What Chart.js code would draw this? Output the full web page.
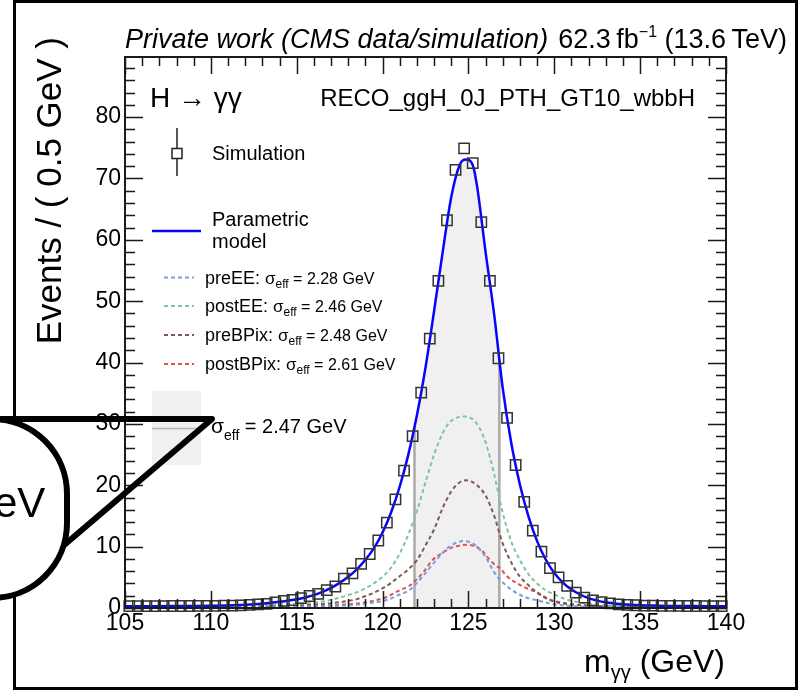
<!DOCTYPE html>
<html>
<head>
<meta charset="utf-8">
<script src="https://cdn.jsdelivr.net/npm/chart.js@4.4.1/dist/chart.umd.min.js"></script>
<style>
  html, body { margin: 0; padding: 0; background: #fff; }
  #wrap { position: relative; width: 808px; height: 692px; }
</style>
</head>
<body>
<div id="wrap"><canvas id="massChart" width="808" height="692"></canvas></div>
<script>
const FONT = '"Liberation Sans", Arial, Helvetica, sans-serif';

// axis ticks / ranges
const xTicks = [105, 110, 115, 120, 125, 130, 135, 140];
const yTicks = [0, 10, 20, 30, 40, 50, 60, 70, 80];
const xRange = [105, 140];
const yRange = [0, 89.8];

// simulation histogram (0.5 GeV bins, bin centres)
const simMass = [
  105.25, 105.75, 106.25, 106.75, 107.25, 107.75, 108.25, 108.75, 109.25, 109.75,
  110.25, 110.75, 111.25, 111.75, 112.25, 112.75, 113.25, 113.75, 114.25, 114.75,
  115.25, 115.75, 116.25, 116.75, 117.25, 117.75, 118.25, 118.75, 119.25, 119.75,
  120.25, 120.75, 121.25, 121.75, 122.25, 122.75, 123.25, 123.75, 124.25, 124.75,
  125.25, 125.75, 126.25, 126.75, 127.25, 127.75, 128.25, 128.75, 129.25, 129.75,
  130.25, 130.75, 131.25, 131.75, 132.25, 132.75, 133.25, 133.75, 134.25, 134.75,
  135.25, 135.75, 136.25, 136.75, 137.25, 137.75, 138.25, 138.75, 139.25, 139.75
];
const simEvents = [
  0.30, 0.30, 0.30, 0.31, 0.31, 0.32, 0.32, 0.33, 0.34, 0.35,
  0.36, 0.38, 0.40, 0.44, 0.50, 0.60, 0.68, 0.90, 1.15, 1.30,
  1.60, 1.95, 2.30, 2.90, 3.50, 4.80, 5.65, 7.20, 8.80, 11.0,
  13.9, 17.7, 22.4, 28.0, 35.1, 43.9, 53.3, 63.2, 71.4, 74.9,
  72.5, 62.9, 53.3, 40.7, 31.0, 23.3, 17.3, 12.6, 9.2, 6.5,
  5.0, 3.6, 2.5, 1.7, 1.25, 0.95, 0.75, 0.60, 0.50, 0.45,
  0.40, 0.38, 0.36, 0.35, 0.34, 0.33, 0.32, 0.31, 0.30, 0.30
];
const simErrors = [
  0.9, 0.9, 0.9, 0.9, 0.9, 0.9, 0.9, 0.9, 0.9, 0.9,
  0.9, 0.9, 0.9, 0.9, 0.9, 0.9, 0.9, 0.9, 0.9, 0.9,
  0.9, 0.9, 0.9, 0.9, 0.9, 0.9, 0.9, 0.9, 0.9, 0.9,
  0.8, 0.8, 0.8, 0.8, 0.8, 0.8, 0.8, 0.8, 0.8, 0.8,
  0.8, 0.8, 0.8, 0.8, 0.8, 0.8, 0.8, 0.8, 0.9, 0.9,
  0.9, 0.9, 0.9, 0.9, 0.9, 0.9, 0.9, 0.9, 0.9, 0.9,
  0.9, 0.9, 0.9, 0.9, 0.9, 0.9, 0.9, 0.9, 0.9, 0.9
];

// parametric model (total)
const modelMass = [
  105, 106, 107, 108, 109, 110, 111, 112, 113, 114, 114.5, 115, 115.5, 116, 116.5,
  117, 117.5, 118, 118.5, 119, 119.5, 120, 120.5, 121, 121.5, 122, 122.5, 123, 123.5,
  124, 124.5, 124.85, 125.25, 125.5, 126, 126.5, 127, 127.5, 128, 128.5, 129, 129.5,
  130, 130.5, 131, 131.5, 132, 132.5, 133, 133.5, 134, 135, 136, 137, 138, 139, 140
];
const modelEvents = [
  0.28, 0.29, 0.30, 0.32, 0.34, 0.37, 0.42, 0.52, 0.70, 1.00, 1.20, 1.42, 1.72, 2.10, 2.62,
  3.28, 4.10, 5.10, 6.30, 7.85, 9.75, 12.3, 15.6, 19.8, 25.0, 31.4, 39.2, 48.4, 58.0,
  67.0, 72.3, 73.1, 72.2, 68.8, 58.0, 47.8, 35.8, 26.8, 20.1, 14.9, 10.9, 7.9,
  5.7, 4.15, 3.0, 2.2, 1.6, 1.2, 0.92, 0.74, 0.60, 0.45, 0.38, 0.34, 0.31, 0.29, 0.28
];

// per-era components
const eraNames = ['preEE', 'postEE', 'preBPix', 'postBPix'];
const eraSigma = ['2.28', '2.46', '2.48', '2.61'];
const eraColors = ['#7b9ddf', '#7cc4a2', '#7d5b4f', '#de5356'];

const preEEMass = [105, 110, 112, 114, 115, 116, 117, 118, 118.7, 119.5, 120.24, 121, 121.5, 122, 122.5, 123, 123.5, 124, 124.7, 125.2, 125.5, 126, 126.5, 126.84, 127.5, 128.1, 128.5, 129.1, 130, 131, 132, 134, 137, 140];
const preEEEvents = [0.02, 0.05, 0.08, 0.13, 0.17, 0.23, 0.30, 0.45, 0.60, 0.90, 1.3, 2.2, 2.8, 4.1, 5.7, 7.4, 9.0, 10.2, 10.9, 10.6, 10.0, 8.3, 5.8, 4.6, 3.0, 2.0, 1.6, 1.2, 0.6, 0.3, 0.18, 0.08, 0.03, 0.02];

const postEEMass = [105, 108, 110, 112, 113, 114, 115, 116, 117, 118, 119, 120, 120.5, 121, 121.5, 122, 122.5, 123, 123.5, 124, 124.8, 125.5, 126, 126.5, 127, 127.5, 128, 128.5, 129, 129.5, 130, 130.7, 131.5, 132.5, 134, 136, 138, 140];
const postEEEvents = [0.10, 0.18, 0.26, 0.38, 0.47, 0.58, 0.70, 0.85, 1.35, 2.1, 3.2, 5.1, 6.6, 8.9, 12.0, 15.8, 20.5, 25.0, 28.5, 30.5, 31.2, 30.0, 27.0, 21.8, 15.5, 10.8, 7.8, 5.5, 4.0, 2.9, 2.2, 1.4, 0.9, 0.55, 0.32, 0.20, 0.14, 0.10];

const preBPixMass = [105, 108, 110, 112, 114, 115, 116, 117, 118, 118.5, 119, 119.5, 120, 120.5, 121, 121.5, 122, 122.5, 123, 123.5, 124, 124.5, 124.9, 125.5, 126, 126.5, 127, 127.5, 128, 128.5, 129, 129.5, 130, 130.5, 131, 132, 134, 136, 140];
const preBPixEvents = [0.06, 0.10, 0.15, 0.22, 0.35, 0.45, 0.60, 0.78, 1.15, 1.45, 1.95, 2.5, 3.2, 4.1, 5.2, 6.3, 7.8, 10.2, 12.8, 16.3, 19.0, 20.5, 20.8, 20.0, 18.3, 15.0, 10.5, 7.4, 5.1, 3.7, 2.5, 1.6, 1.05, 0.75, 0.55, 0.38, 0.20, 0.12, 0.06];

const postBPixMass = [105, 110, 112, 114, 115, 116, 117, 118, 118.7, 119.5, 120.24, 121, 121.6, 122, 122.5, 122.9, 123.5, 124, 124.9, 125.5, 125.8, 126.2, 126.6, 126.84, 127.2, 128.1, 128.6, 129.1, 129.8, 130.5, 131, 132, 133, 135, 140];
const postBPixEvents = [0.05, 0.10, 0.14, 0.20, 0.25, 0.32, 0.42, 0.62, 0.80, 1.2, 1.8, 2.9, 3.7, 4.7, 6.3, 7.8, 9.0, 9.8, 10.3, 9.9, 9.3, 8.0, 6.9, 6.5, 5.3, 3.6, 3.0, 2.4, 1.3, 0.85, 0.6, 0.38, 0.25, 0.14, 0.05];

// sigma_eff window
const bandEdges = [121.86, 126.8];
const bandEdgeHeights = [29.6, 40.5];

const toPoints = (xs, ys) => xs.map((x, i) => ({ x: x, y: ys[i] }));

const bandPoints = [{ x: bandEdges[0], y: bandEdgeHeights[0] }]
  .concat(toPoints(modelMass, modelEvents).filter(p => p.x > bandEdges[0] && p.x < bandEdges[1]))
  .concat([{ x: bandEdges[1], y: bandEdgeHeights[1] }]);

const eraMass = [preEEMass, postEEMass, preBPixMass, postBPixMass];
const eraEvents = [preEEEvents, postEEEvents, preBPixEvents, postBPixEvents];

const datasets = [
  {
    label: 'Simulation',
    data: toPoints(simMass, simEvents),
    pointStyle: 'rect',
    pointRadius: 7.3,
    pointBorderColor: '#333',
    pointBackgroundColor: 'rgba(0,0,0,0)',
    pointBorderWidth: 1.5,
    showLine: false,
    clip: false,
    order: 0,
  },
  {
    label: 'Parametric model',
    data: toPoints(modelMass, modelEvents),
    showLine: true,
    borderColor: '#0505ff',
    borderWidth: 2.5,
    pointRadius: 0,
    cubicInterpolationMode: 'monotone',
    order: 1,
  },
];

eraNames.forEach((name, i) => {
  datasets.push({
    label: name,
    data: toPoints(eraMass[i], eraEvents[i]),
    showLine: true,
    borderColor: eraColors[i],
    borderWidth: 2,
    borderDash: [4, 3],
    pointRadius: 0,
    cubicInterpolationMode: 'monotone',
    order: 2,
  });
});

bandEdges.forEach((m, i) => {
  datasets.push({
    label: 'edge' + i,
    data: [{ x: m, y: 0 }, { x: m, y: bandEdgeHeights[i] }],
    showLine: true,
    borderColor: '#a9a9a9',
    borderWidth: 2.5,
    pointRadius: 0,
    order: 3,
  });
});

datasets.push({
  label: 'band',
  data: bandPoints,
  showLine: true,
  borderWidth: 0,
  borderColor: 'rgba(0,0,0,0)',
  backgroundColor: '#f0f0f0',
  fill: 'origin',
  pointRadius: 0,
  cubicInterpolationMode: 'monotone',
  order: 4,
});

function font(size, italic) {
  return (italic ? 'italic ' : '') + size + 'px ' + FONT;
}

// draw a run of text pieces (for sub/superscripts)
function drawRuns(ctx, parts, x, y, align) {
  let total = 0;
  parts.forEach(p => {
    ctx.font = font(p.size, p.italic);
    p.w = ctx.measureText(p.t).width;
    total += p.w;
  });
  let cx = align === 'right' ? x - total : x;
  ctx.textAlign = 'left';
  parts.forEach(p => {
    ctx.font = font(p.size, p.italic);
    ctx.fillText(p.t, cx, y + (p.dy || 0));
    cx += p.w;
  });
}

const errorBars = {
  id: 'errorBars',
  afterDatasetsDraw(chart) {
    const { ctx, scales: { y } } = chart;
    const meta = chart.getDatasetMeta(0);
    ctx.save();
    ctx.strokeStyle = '#333';
    ctx.lineWidth = 1.5;
    ctx.beginPath();
    meta.data.forEach((pt, i) => {
      const top = y.getPixelForValue(simEvents[i] + simErrors[i]);
      const bot = Math.min(y.getPixelForValue(simEvents[i] - simErrors[i]), y.bottom);
      if (top < pt.y - 5) { ctx.moveTo(pt.x, top); ctx.lineTo(pt.x, pt.y - 5); }
      if (bot > pt.y + 5) { ctx.moveTo(pt.x, pt.y + 5); ctx.lineTo(pt.x, bot); }
    });
    ctx.stroke();
    ctx.restore();
  }
};

const frameTicks = {
  id: 'frameTicks',
  afterDatasetsDraw(chart) {
    const { ctx, chartArea: a, scales: { x, y } } = chart;
    ctx.save();
    ctx.strokeStyle = '#1a1a1a';
    ctx.lineWidth = 1.5;
    ctx.beginPath();
    for (let v = yRange[0]; v <= yRange[1]; v += 2) {
      const py = Math.round(y.getPixelForValue(v)) + 0.5;
      const len = v % 10 === 0 ? 18 : 10;
      ctx.moveTo(a.left, py); ctx.lineTo(a.left + len, py);
      ctx.moveTo(a.right, py); ctx.lineTo(a.right - len, py);
    }
    for (let v = xRange[0]; v <= xRange[1]; v += 1) {
      const px = Math.round(x.getPixelForValue(v)) + 0.5;
      const len = v % 5 === 0 ? 17 : 9;
      ctx.moveTo(px, a.bottom); ctx.lineTo(px, a.bottom - len);
      ctx.moveTo(px, a.top); ctx.lineTo(px, a.top + len);
    }
    ctx.stroke();
    ctx.lineWidth = 2;
    ctx.strokeRect(a.left, a.top, a.right - a.left, a.bottom - a.top);
    ctx.restore();
  }
};

const annotations = {
  id: 'annotations',
  afterDraw(chart) {
    const ctx = chart.ctx;
    ctx.save();
    ctx.fillStyle = '#000';
    ctx.textBaseline = 'alphabetic';

    // outer frame
    ctx.strokeStyle = '#000';
    ctx.lineWidth = 3;
    ctx.strokeRect(14.5, 1.5, 782, 687);

    // header
    drawRuns(ctx, [{ t: 'Private work (CMS data/simulation)', size: 27, italic: true }], 125, 48);
    drawRuns(ctx, [
      { t: '62.3\u2009fb', size: 27 },
      { t: '\u22121', size: 16, dy: -11 },
      { t: ' (13.6\u2009TeV)', size: 27 }
    ], 787, 48, 'right');

    drawRuns(ctx, [{ t: 'H \u2192 \u03b3\u03b3', size: 28 }], 150, 107);
    drawRuns(ctx, [{ t: 'RECO_ggH_0J_PTH_GT10_wbbH', size: 24 }], 695, 106, 'right');

    // legend: simulation marker
    ctx.strokeStyle = '#222';
    ctx.lineWidth = 1.5;
    ctx.beginPath();
    ctx.moveTo(177, 128); ctx.lineTo(177, 148.5);
    ctx.moveTo(177, 158.5); ctx.lineTo(177, 176);
    ctx.stroke();
    ctx.strokeRect(172, 148.5, 10, 10);
    drawRuns(ctx, [{ t: 'Simulation', size: 20 }], 212, 160);

    // legend: model
    ctx.strokeStyle = '#0505ff';
    ctx.lineWidth = 2.5;
    ctx.beginPath(); ctx.moveTo(152, 231); ctx.lineTo(201, 231); ctx.stroke();
    drawRuns(ctx, [{ t: 'Parametric', size: 20 }], 212, 226);
    drawRuns(ctx, [{ t: 'model', size: 20 }], 212, 248);

    // legend: eras
    const eraY = [277.5, 306, 335, 364];
    eraNames.forEach((name, i) => {
      ctx.strokeStyle = eraColors[i];
      ctx.lineWidth = 2;
      ctx.setLineDash([4, 3]);
      ctx.beginPath(); ctx.moveTo(164, eraY[i]); ctx.lineTo(194, eraY[i]); ctx.stroke();
      ctx.setLineDash([]);
      drawRuns(ctx, [
        { t: name + ': ', size: 18 },
        { t: '\u03c3', size: 17 },
        { t: 'eff', size: 12, dy: 4 },
        { t: ' = ' + eraSigma[i] + ' GeV', size: 16 }
      ], 205, eraY[i] + 6);
    });

    // legend: sigma_eff band
    ctx.fillStyle = '#f0f0f0';
    ctx.fillRect(152, 391, 49, 74);
    ctx.strokeStyle = '#b5b5b5';
    ctx.lineWidth = 1.5;
    ctx.beginPath(); ctx.moveTo(152, 428.5); ctx.lineTo(201, 428.5); ctx.stroke();
    ctx.fillStyle = '#000';
    drawRuns(ctx, [
      { t: '\u03c3', size: 21 },
      { t: 'eff', size: 14, dy: 7 },
      { t: ' = 2.47 GeV', size: 20 }
    ], 211, 433);

    // axis titles
    drawRuns(ctx, [
      { t: 'm', size: 32 },
      { t: '\u03b3\u03b3', size: 20, dy: 7 },
      { t: ' (GeV)', size: 32 }
    ], 725, 672, 'right');

    ctx.save();
    ctx.translate(61, 37);
    ctx.rotate(-Math.PI / 2);
    ctx.font = font(35);
    ctx.textAlign = 'right';
    ctx.fillText('Events / ( 0.5 GeV )', 0, 0);
    ctx.restore();

    // magnifier callout
    ctx.strokeStyle = '#000';
    ctx.lineWidth = 6;
    ctx.lineJoin = 'round';
    ctx.lineCap = 'round';
    ctx.beginPath();
    ctx.moveTo(-8, 419); ctx.lineTo(212, 419); ctx.lineTo(56, 552);
    ctx.stroke();
    ctx.beginPath();
    ctx.moveTo(-100, 419);
    ctx.lineTo(-8, 419);
    ctx.arc(-8, 494, 75, -Math.PI / 2, 0);
    ctx.lineTo(67, 523);
    ctx.arc(-8, 523, 75, 0, Math.PI / 2);
    ctx.lineTo(-100, 598);
    ctx.closePath();
    ctx.fillStyle = '#fff';
    ctx.fill();
    ctx.stroke();
    ctx.fillStyle = '#000';
    ctx.font = font(42);
    ctx.textAlign = 'left';
    ctx.fillText('eV', -6, 517);

    ctx.restore();
  }
};

new Chart(document.getElementById('massChart'), {
  type: 'scatter',
  data: { datasets: datasets },
  options: {
    responsive: false,
    animation: false,
    layout: { padding: { left: 0, top: 57, right: 82, bottom: 0 } },
    plugins: {
      legend: { display: false },
      tooltip: { enabled: false },
    },
    scales: {
      x: {
        type: 'linear',
        min: xRange[0],
        max: xRange[1],
        grid: { display: false, drawTicks: false },
        border: { display: false },
        afterBuildTicks: s => { s.ticks = xTicks.map(v => ({ value: v })); },
        afterFit: s => { s.height = 84; s.paddingLeft = 0; s.paddingRight = 0; },
        ticks: {
          color: '#000',
          padding: 2,
          maxRotation: 0,
          font: { family: FONT, size: 23 },
        },
      },
      y: {
        type: 'linear',
        min: yRange[0],
        max: yRange[1],
        grid: { display: false, drawTicks: false },
        border: { display: false },
        afterBuildTicks: s => { s.ticks = yTicks.map(v => ({ value: v })); },
        afterFit: s => { s.width = 125; s.paddingTop = 0; s.paddingBottom = 0; },
        ticks: {
          color: '#000',
          padding: 4,
          font: { family: FONT, size: 23 },
        },
      },
    },
  },
  plugins: [errorBars, frameTicks, annotations],
});
</script>
</body>
</html>
